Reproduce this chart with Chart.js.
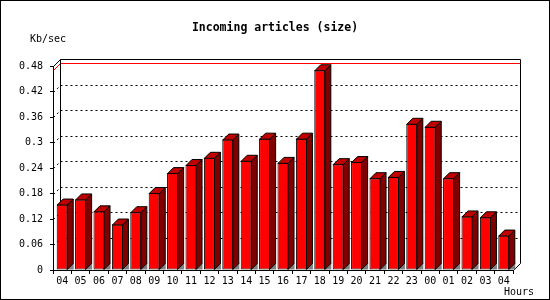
<!DOCTYPE html>
<html><head><meta charset="utf-8">
<style>html,body{margin:0;padding:0;background:#fff}canvas{display:block}</style>
<script src="https://cdn.jsdelivr.net/npm/chart.js@4/dist/chart.umd.min.js"></script>
</head><body>
<canvas id="c" width="550" height="300"></canvas>
<script>
const hours = ['04','05','06','07','08','09','10','11','12','13','14','15','16','17','18','19','20','21','22','23','00','01','02','03','04'];
const kbPerSec = [0.154,0.166,0.138,0.107,0.136,0.181,0.228,0.247,0.264,0.307,0.257,0.309,0.252,0.309,0.470,0.249,0.254,0.216,0.219,0.344,0.337,0.216,0.126,0.124,0.081];
const yTicks = [0,0.06,0.12,0.18,0.24,0.3,0.36,0.42,0.48];
const yTickLabels = ['0','0.06','0.12','0.18','0.24','0.3','0.36','0.42','0.48'];
const titleText = 'Incoming articles (size)';
const yUnit = 'Kb/sec';
const xUnit = 'Hours';

const MONO = '"DejaVu Sans Mono", monospace';
const D = 7;   // wall depth
const B = 6;   // bar depth

const walls = {
  id: 'walls',
  beforeDraw(chart) {
    const c = chart.ctx;
    c.save(); c.fillStyle = '#fff'; c.fillRect(0, 0, chart.width, chart.height); c.restore();
  },
  beforeDatasetsDraw(chart) {
    const c = chart.ctx, a = chart.chartArea, ys = chart.scales.y;
    const L = a.left + 0.5, R = a.right + 0.5, Bt = a.bottom + 0.5;
    const T = Math.round(ys.getPixelForValue(yTicks[yTicks.length - 1])) + 0.5;
    c.save();
    c.lineWidth = 1;
    c.strokeStyle = '#000';
    c.setLineDash([2, 3]);
    yTicks.forEach(v => {
      if (v === yTicks[0] || v === yTicks[yTicks.length - 1]) return;
      const y = Math.round(ys.getPixelForValue(v)) + 0.5;
      c.beginPath(); c.moveTo(L + D, y - D); c.lineTo(R + D, y - D); c.stroke();
      c.beginPath(); c.moveTo(L, y); c.lineTo(L + D, y - D); c.stroke();
    });
    c.setLineDash([]);
    const mx = Math.max(...kbPerSec);
    const ym = Math.round(ys.getPixelForValue(mx)) + 0.5;
    c.strokeStyle = '#ff0000';
    c.beginPath(); c.moveTo(L, ym); c.lineTo(L + D, ym - D); c.lineTo(R + D, ym - D); c.stroke();
    c.strokeStyle = '#000';
    c.beginPath();
    c.moveTo(L + D, Bt - D); c.lineTo(L + D, T - D); c.lineTo(R + D, T - D); c.lineTo(R + D, Bt - D);
    c.stroke();
    c.beginPath(); c.moveTo(L, T); c.lineTo(L + D, T - D); c.stroke();
    c.beginPath(); c.moveTo(R, Bt); c.lineTo(R + D, Bt - D); c.stroke();
    c.restore();
  },
  afterDatasetsDraw(chart) {
    const c = chart.ctx;
    const meta = chart.getDatasetMeta(0);
    c.save();
    c.lineWidth = 1;
    c.strokeStyle = '#000';
    meta.data.forEach(bar => {
      const p = bar.getProps(['x', 'y', 'base', 'width'], true);
      const l = p.x - p.width / 2, r = p.x + p.width / 2 - 0.5, t = p.y + 0.5, b = p.base;
      c.fillStyle = '#808080';
      c.beginPath(); c.moveTo(r, b); c.lineTo(r + B + 0.5, b - B - 1); c.lineTo(r + B + 0.5, b); c.closePath(); c.fill();
      c.fillStyle = '#800000';
      c.beginPath(); c.moveTo(r, t); c.lineTo(r + B, t - B); c.lineTo(r + B, b - B); c.lineTo(r, b); c.closePath(); c.fill(); c.stroke();
      c.fillStyle = '#c00000';
      c.beginPath(); c.moveTo(l + 0.5, t); c.lineTo(l + 0.5 + B, t - B); c.lineTo(r + B, t - B); c.lineTo(r, t); c.closePath(); c.fill(); c.stroke();
    });
    c.restore();
  },
  afterDraw(chart) {
    const c = chart.ctx;
    c.save();
    c.fillStyle = '#000';
    c.font = 'bold 11.5px ' + MONO;
    c.textAlign = 'center'; c.textBaseline = 'middle';
    c.fillText(titleText, 275, 28);
    c.font = '10px ' + MONO;
    c.textAlign = 'left';
    c.fillText(yUnit, 30, 39);
    c.fillText(xUnit, 504, 292);
    c.strokeStyle = '#000'; c.lineWidth = 1;
    c.strokeRect(0.5, 0.5, chart.width - 1, chart.height - 1);
    c.restore();
  }
};

new Chart(document.getElementById('c'), {
  type: 'bar',
  data: {
    labels: hours,
    datasets: [{
      data: kbPerSec,
      backgroundColor: '#ff0000',
      borderColor: '#000',
      borderWidth: 1,
      borderSkipped: false,
      barPercentage: 0.6,
      categoryPercentage: 1
    }]
  },
  options: {
    responsive: false,
    animation: false,
    devicePixelRatio: 1,
    layout: { padding: { left: 0, right: 37, top: 66, bottom: 0 } },
    plugins: { legend: { display: false }, tooltip: { enabled: false }, title: { display: false } },
    scales: {
      x: {
        grid: { display: true, drawOnChartArea: false, drawTicks: true, tickLength: 4, color: '#000', offset: true },
        border: { display: true, color: '#000' },
        ticks: { color: '#000', font: { family: MONO, size: 10 }, padding: 1, maxRotation: 0, autoSkip: false },
        afterFit(s) { s.height = 30; }
      },
      y: {
        min: 0, max: 0.48,
        afterBuildTicks(s) { s.ticks = yTicks.map(v => ({ value: v })); },
        ticks: { color: '#000', font: { family: MONO, size: 10 }, padding: 7, callback: (v, i) => yTickLabels[i] },
        grid: { drawOnChartArea: false, tickLength: 3, color: '#000' },
        border: { display: true, color: '#000' },
        afterFit(s) { s.width = 53; }
      }
    }
  },
  plugins: [walls]
});
</script>
</body></html>
